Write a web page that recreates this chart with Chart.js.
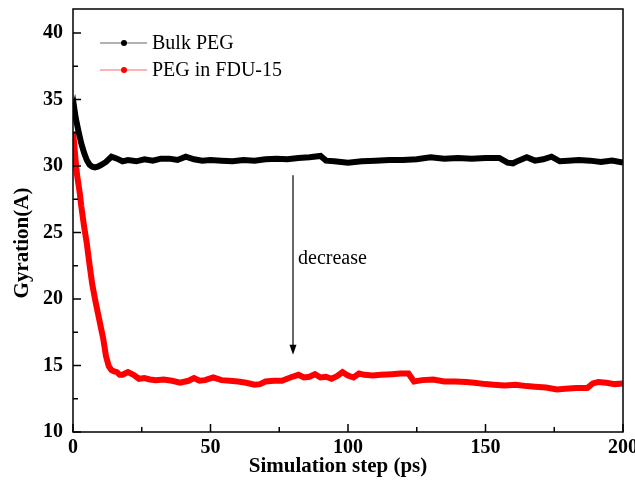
<!DOCTYPE html>
<html>
<head>
<meta charset="utf-8">
<script src="https://cdn.jsdelivr.net/npm/chart.js@4.4.0/dist/chart.umd.min.js"></script>
<style>
  html, body { margin: 0; padding: 0; background: #fff; }
  #wrap { width: 635px; height: 483px; }
</style>
</head>
<body>
<div id="wrap"><canvas id="myChart" width="635" height="483"></canvas></div>
<script>
const bulkSteps = [0, 0.5, 1, 2, 3, 4, 5, 6, 7, 8, 9, 10, 12, 14, 16, 18, 20, 23, 26, 29,
  32, 35, 38, 41, 44, 47, 50, 54, 58, 62, 66, 70, 74, 78, 82, 86, 90, 92, 95, 100,
  105, 110, 115, 120, 125, 130, 135, 140, 145, 150, 155, 158, 160, 162, 165, 168, 171, 174, 177, 180,
  184, 188, 192, 196, 200];
const bulkGyration = [33.9, 34.3, 33.6, 32.6, 31.7, 31.0, 30.45, 30.1, 29.95, 29.9, 29.95, 30.05, 30.3, 30.7, 30.55, 30.35, 30.45, 30.35, 30.5, 30.4,
  30.55, 30.55, 30.45, 30.7, 30.5, 30.4, 30.45, 30.4, 30.35, 30.45, 30.4, 30.5, 30.55, 30.5, 30.6, 30.65, 30.75, 30.4, 30.35, 30.25,
  30.35, 30.4, 30.45, 30.45, 30.5, 30.65, 30.55, 30.6, 30.55, 30.6, 30.6, 30.25, 30.2, 30.4, 30.65, 30.4, 30.5, 30.7, 30.35, 30.4,
  30.45, 30.4, 30.3, 30.4, 30.25];

const fduSteps = [0, 0.5, 1, 1.5, 2, 2.5, 3, 4, 5, 6, 7, 8, 9, 10, 11, 12, 13, 14, 15, 16,
  17, 18, 20, 22, 24, 26, 28, 30, 33, 36, 39, 42, 44, 46, 48, 51, 54, 57, 60, 63,
  66, 68, 70, 73, 76, 79, 82, 84, 86, 88, 90, 92, 94, 96, 98, 100, 102, 104, 106, 109,
  112, 116, 119, 122, 124, 127, 131, 135, 139, 143, 146, 150, 153, 157, 161, 165, 168, 172, 176, 179,
  183, 187, 189, 191, 194, 197, 200];
const fduGyration = [32.6, 31.5, 30.3, 29.3, 28.6, 27.9, 27.0, 25.5, 24.2, 22.6, 21.1, 20.0, 19.0, 18.0, 17.0, 15.7, 14.95, 14.65, 14.55, 14.5,
  14.3, 14.3, 14.5, 14.3, 14.0, 14.05, 13.95, 13.9, 13.95, 13.85, 13.7, 13.85, 14.05, 13.85, 13.9, 14.1, 13.9, 13.85, 13.8, 13.7,
  13.55, 13.6, 13.8, 13.85, 13.85, 14.1, 14.3, 14.1, 14.15, 14.35, 14.1, 14.15, 14.0, 14.2, 14.5, 14.25, 14.1, 14.4, 14.3, 14.25,
  14.3, 14.35, 14.4, 14.4, 13.8, 13.9, 13.95, 13.8, 13.8, 13.75, 13.7, 13.6, 13.55, 13.5, 13.55, 13.45, 13.4, 13.35, 13.2, 13.25,
  13.3, 13.3, 13.65, 13.75, 13.7, 13.6, 13.65];

const seriesNames = ['Bulk PEG', 'PEG in FDU-15'];
const seriesColors = ['#000000', '#ff0000'];
const xMajorTicks = [0, 50, 100, 150, 200];
const xMinorTicks = [25, 75, 125, 175];
const yMajorTicks = [10, 15, 20, 25, 30, 35, 40];
const yMinorTicks = [12.5, 17.5, 22.5, 27.5, 32.5, 37.5];
const arrowFrom = [80, 29.3];
const arrowTo = [80, 15.8];

const serif = "'Liberation Serif', 'Times New Roman', serif";

const toPoints = (xs, ys) => xs.map((v, i) => ({ x: v, y: ys[i] }));

// frame, inward ticks, legend, arrow and axis titles
const decorations = {
  id: 'decorations',
  afterDraw(chart) {
    const ctx = chart.ctx;
    const { left, right, top, bottom } = chart.chartArea;
    const x = chart.scales.x, y = chart.scales.y;
    ctx.save();
    ctx.strokeStyle = '#000';
    ctx.lineWidth = 1.5;
    ctx.strokeRect(left, top, right - left, bottom - top);

    ctx.beginPath();
    xMajorTicks.forEach(v => { const p = x.getPixelForValue(v); ctx.moveTo(p, bottom); ctx.lineTo(p, bottom - 8); });
    xMinorTicks.forEach(v => { const p = x.getPixelForValue(v); ctx.moveTo(p, bottom); ctx.lineTo(p, bottom - 5); });
    yMajorTicks.forEach(v => { const p = y.getPixelForValue(v); ctx.moveTo(left, p); ctx.lineTo(left + 8, p); });
    yMinorTicks.forEach(v => { const p = y.getPixelForValue(v); ctx.moveTo(left, p); ctx.lineTo(left + 5, p); });
    ctx.stroke();

    // legend
    ctx.font = '20px ' + serif;
    ctx.textBaseline = 'middle';
    ctx.textAlign = 'left';
    [43, 70].forEach((ly, i) => {
      ctx.strokeStyle = seriesColors[i];
      ctx.globalAlpha = 0.6;
      ctx.lineWidth = 1;
      ctx.beginPath();
      ctx.moveTo(100, ly); ctx.lineTo(147, ly);
      ctx.stroke();
      ctx.globalAlpha = 1;
      ctx.fillStyle = seriesColors[i];
      ctx.beginPath();
      ctx.arc(124, ly, 3, 0, Math.PI * 2);
      ctx.fill();
      ctx.fillStyle = '#000';
      ctx.fillText(seriesNames[i], 152, ly + 1);
    });

    // arrow
    const ax = x.getPixelForValue(arrowFrom[0]);
    const ay1 = y.getPixelForValue(arrowFrom[1]);
    const ay2 = y.getPixelForValue(arrowTo[1]);
    ctx.strokeStyle = '#000';
    ctx.lineWidth = 1.2;
    ctx.beginPath();
    ctx.moveTo(ax, ay1); ctx.lineTo(ax, ay2 - 8);
    ctx.stroke();
    ctx.fillStyle = '#000';
    ctx.beginPath();
    ctx.moveTo(ax - 3.5, ay2 - 10); ctx.lineTo(ax + 3.5, ay2 - 10); ctx.lineTo(ax, ay2);
    ctx.closePath();
    ctx.fill();
    ctx.font = '20px ' + serif;
    ctx.fillText('decrease', ax + 5, y.getPixelForValue(23.0));

    // axis titles
    ctx.font = 'bold 21px ' + serif;
    ctx.textAlign = 'center';
    ctx.fillText('Simulation step (ps)', 338, 467);
    ctx.translate(23, 243);
    ctx.rotate(-Math.PI / 2);
    ctx.fillText('Gyration(A)', 0, 0);
    ctx.restore();
  }
};

const config = {
  type: 'line',
  data: {
    datasets: [{
      label: seriesNames[0],
      data: toPoints(bulkSteps, bulkGyration),
      borderColor: seriesColors[0],
      borderWidth: 6,
      pointRadius: 0,
      tension: 0
    }, {
      label: seriesNames[1],
      data: toPoints(fduSteps, fduGyration),
      borderColor: seriesColors[1],
      borderWidth: 6,
      pointRadius: 0,
      tension: 0
    }]
  },
  options: {
    responsive: false,
    animation: false,
    layout: { padding: { left: 0, right: 12, top: 9, bottom: 0 } },
    plugins: {
      legend: { display: false },
      tooltip: { enabled: false }
    },
    scales: {
      x: {
        type: 'linear',
        min: 0,
        max: 200,
        grid: { display: false, drawTicks: false },
        border: { display: false },
        ticks: {
          stepSize: 50,
          includeBounds: false,
          maxRotation: 0,
          padding: 4,
          color: '#000',
          font: { family: serif, size: 20, weight: 'bold' }
        },
        afterFit: s => { s.height = 51; s.paddingLeft = 0; s.paddingRight = 0; }
      },
      y: {
        min: 10,
        max: 41.8,
        grid: { display: false, drawTicks: false },
        border: { display: false },
        ticks: {
          stepSize: 5,
          includeBounds: false,
          padding: 10,
          color: '#000',
          font: { family: serif, size: 20, weight: 'bold' }
        },
        afterFit: s => { s.width = 73; s.paddingTop = 0; s.paddingBottom = 0; }
      }
    }
  },
  plugins: [decorations]
};

const myChart = new Chart(document.getElementById('myChart'), config);
</script>
</body>
</html>
